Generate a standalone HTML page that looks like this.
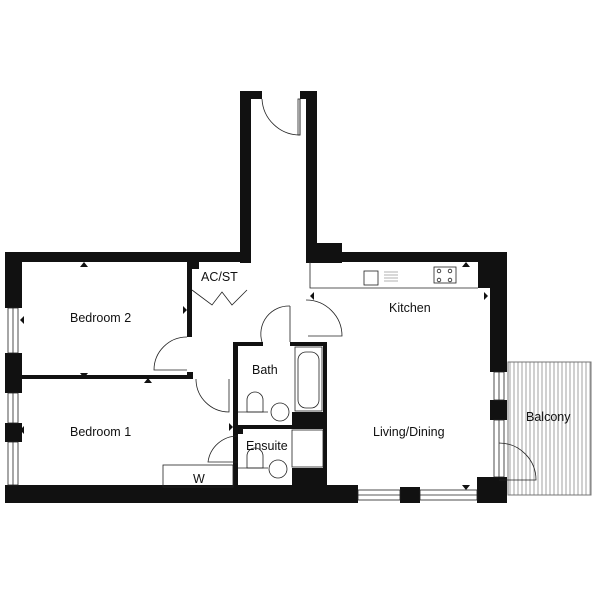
<!DOCTYPE html>
<html><head><style>body{margin:0;background:#fff}svg{display:block}text{font-family:"Liberation Sans",sans-serif;font-size:12.5px;fill:#111}</style></head><body>
<svg width="600" height="600" viewBox="0 0 600 600">
<defs><pattern id="bp" width="4" height="10" patternUnits="userSpaceOnUse"><line x1="2" y1="0" x2="2" y2="10" stroke="#777" stroke-width="0.7"/></pattern></defs>
<!-- balcony -->
<rect x="508" y="362" width="83" height="133" fill="url(#bp)" stroke="#777" stroke-width="1"/>
<g fill="#111">
<!-- corridor -->
<rect x="240" y="91" width="11" height="172"/>
<rect x="240" y="91" width="22" height="8"/>
<rect x="300" y="91" width="17" height="8"/>
<rect x="306" y="91" width="11" height="172"/>
<rect x="306" y="243" width="36" height="20"/>
<!-- top walls -->
<rect x="5" y="252" width="246" height="10"/>
<rect x="306" y="252" width="201" height="10"/>
<!-- right wall -->
<rect x="478" y="252" width="29" height="36"/>
<rect x="490" y="252" width="17" height="120"/>
<rect x="490" y="400" width="17" height="20"/>
<rect x="477" y="477" width="30" height="26"/>
<!-- left wall -->
<rect x="5" y="252" width="17" height="56"/>
<rect x="5" y="353" width="17" height="40"/>
<rect x="5" y="423" width="17" height="19"/>
<!-- bottom wall -->
<rect x="5" y="485" width="353" height="18"/>
<rect x="400" y="487" width="20" height="16"/>
<!-- interior -->
<rect x="187" y="262" width="5" height="75"/>
<rect x="187" y="262" width="12" height="7"/>
<rect x="22" y="375" width="171" height="4"/>
<rect x="187" y="372" width="6" height="7"/>
<rect x="233" y="342" width="5" height="145"/>
<rect x="233" y="342" width="30" height="4"/>
<rect x="290" y="342" width="37" height="4"/>
<rect x="323" y="342" width="4" height="145"/>
<rect x="233" y="425" width="94" height="4"/>
<rect x="292" y="412" width="35" height="17"/>
<rect x="292" y="468" width="35" height="19"/>
<rect x="238" y="428" width="5" height="6"/>
<!-- arrows -->
<path d="M80 267l4-5 4 5z M80 373l4 5 4-5z M144 383l4-5 4 5z M144 485l4 5 4-5z M24 316l-4 4 4 4z M24 426l-4 4 4 4z M183 306l4 4-4 4z M229 423l4 4-4 4z M314 292l-4 4 4 4z M484 292l4 4-4 4z M462 267l4-5 4 5z M462 485l4 5 4-5z"/>
</g>
<g fill="none" stroke="#222" stroke-width="0.8">
<!-- windows -->
<rect x="8" y="308" width="10" height="45"/><line x1="13" y1="308" x2="13" y2="353"/>
<rect x="8" y="393" width="10" height="30"/><line x1="13" y1="393" x2="13" y2="423"/>
<rect x="8" y="442" width="10" height="43"/><line x1="13" y1="442" x2="13" y2="485"/>
<rect x="494" y="372" width="10" height="28"/><line x1="499" y1="372" x2="499" y2="400"/>
<rect x="494" y="420" width="10" height="57"/><line x1="499" y1="420" x2="499" y2="477"/>
<rect x="358" y="490" width="42" height="10"/><line x1="358" y1="495" x2="400" y2="495"/>
<rect x="420" y="490" width="57" height="10"/><line x1="420" y1="495" x2="477" y2="495"/>
<!-- doors -->
<path d="M262 99 A38 38 0 0 0 300 135 L300 99"/><rect x="298" y="99" width="2" height="36"/>
<path d="M306 300 A36 36 0 0 1 342 336 L308 336"/>
<path d="M290 306 L290 342 M290 306 A28 28 0 0 0 262 342"/>
<path d="M187 337 A33 33 0 0 0 154 370 L187 370"/>
<path d="M196 379 A33 33 0 0 0 229 412 L229 379"/>
<path d="M238 436 A30 30 0 0 0 208 462 L238 462"/>
<path d="M192 290 L212 305 L222 292 L232 305 L247 290"/>
<path d="M499 443 A37 37 0 0 1 536 480 L499 480"/>
<!-- kitchen counter -->
<path d="M310 262 L310 288 L478 288"/>
<rect x="364" y="271" width="14" height="14"/><rect x="434" y="267" width="22" height="16"/>
<circle cx="439" cy="271" r="1.8"/><circle cx="450" cy="271" r="1.8"/><circle cx="439" cy="280" r="1.8"/><circle cx="450" cy="280" r="1.8"/>
<path d="M384 272h14M384 275h14M384 278h14M384 281h14" stroke="#999"/>
<!-- bath -->
<rect x="295" y="347" width="27" height="64"/><rect x="298" y="352" width="21" height="56" rx="8"/>
<rect x="292" y="430" width="31" height="37"/>
<path d="M247 412v-12a8 8 0 0 1 16 0v12z M247 468v-12a8 8 0 0 1 16 0v12z"/>
<path d="M238 412h30 M238 468h30"/>
<circle cx="280" cy="412" r="9"/><circle cx="278" cy="469" r="9"/>
<!-- wardrobe -->
<rect x="163" y="465" width="70" height="22"/>
</g>
<text x="70" y="322">Bedroom 2</text>
<text x="70" y="436">Bedroom 1</text>
<text x="201" y="281">AC/ST</text>
<text x="252" y="374">Bath</text>
<text x="246" y="450">Ensuite</text>
<text x="389" y="312">Kitchen</text>
<text x="373" y="436">Living/Dining</text>
<text x="526" y="421">Balcony</text>
<text x="193" y="483">W</text>
</svg>
</body></html>
